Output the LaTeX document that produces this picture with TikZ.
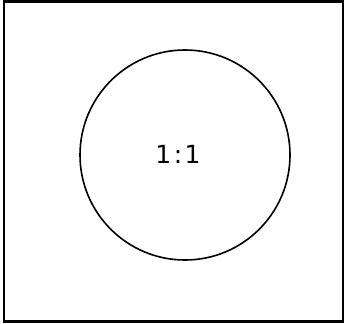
\documentclass[tikz,border=0pt]{standalone}
\usepackage{fontspec}
\setmainfont{DejaVu Sans}
\begin{document}
\begin{tikzpicture}[x=1pt, y=-1pt]
  \useasboundingbox (0,0) rectangle (344,323);
  \draw[line width=2.5pt] (4,1.5) rectangle (343,321.5);
  \coordinate (ctr) at (185,155);
  \draw[line width=1.6pt] (ctr) circle (105);
  \node[font=\fontsize{25}{30}\selectfont, inner sep=0pt] (ratio) at (178,154) {1\kern2.5pt:\kern2.5pt1};
\end{tikzpicture}
\end{document}
